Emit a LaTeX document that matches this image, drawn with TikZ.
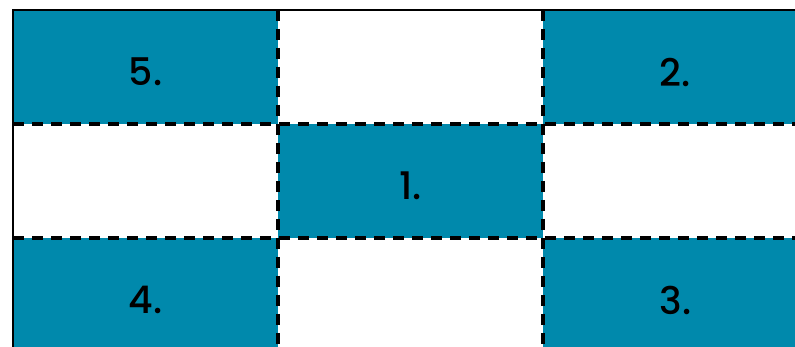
\documentclass[tikz,border=0pt]{standalone}
\usepackage{fontspec}
\setmainfont{Poppins}
\newfontfamily\numfont{Poppins Medium}
\definecolor{cellblue}{RGB}{0,137,172}
\begin{document}
\begin{tikzpicture}[x=1pt,y=-1pt,
	cell/.style={fill=cellblue,draw=none,minimum width=265pt,minimum height=114pt,inner sep=0pt},
	num/.style={font=\numfont\fontsize{38}{40}\selectfont,yshift=-5pt},
	dashline/.style={draw=black,line width=3.2pt,dash pattern=on 11pt off 8pt}]
		\useasboundingbox (0,0) rectangle (795,347);
		\clip (0,0) rectangle (795,347);
		\coordinate (O) at (13,10);
		% shaded cells: column, row, number
		\foreach \c/\r/\n in {0/0/5,2/0/2,1/1/1,0/2/4,2/2/3}
			\node[cell] (c\n) at (145.5+265*\c,67+114*\r) {};
		\foreach \n in {1,...,5} \node[num] (n\n) at (c\n) {\n.};
		% dashed inner lines
		\foreach \x in {278,543} \draw[dashline] (\x,10) -- (\x,352);
		\foreach \y in {124,238} \draw[dashline] (13,\y) -- (808,\y);
		\draw[line width=2.5pt] (O) rectangle (808,352);
	\end{tikzpicture}
\end{document}
